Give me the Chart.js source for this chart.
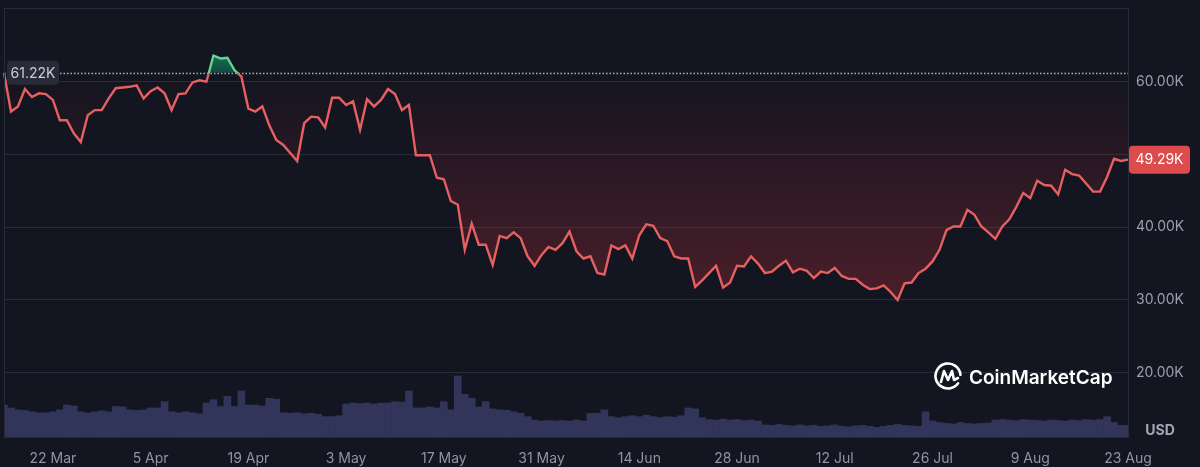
<!DOCTYPE html>
<html lang="en">
<head>
<meta charset="UTF-8">
<title>BTC / USD</title>
<script src="https://cdn.jsdelivr.net/npm/chart.js"></script>
<style>
  html, body { margin: 0; padding: 0; background: #131520; }
  #wrap { width: 1200px; height: 467px; position: relative; }
</style>
</head>
<body>
<div id="wrap"><canvas id="priceChart"></canvas></div>
<script>
// ---- data ----
const startDate = '2021-03-15';
const monthNames = ['Jan','Feb','Mar','Apr','May','Jun','Jul','Aug','Sep','Oct','Nov','Dec'];
const tickLabels = ['22 Mar','5 Apr','19 Apr','3 May','17 May','31 May','14 Jun','28 Jun','12 Jul','26 Jul','9 Aug','23 Aug'];
const yTicks = [20, 30, 40, 50, 60];
const baseline = 61.22;   // start price, dotted line
const lastPrice = 49.29;

// daily price, thousands USD
const priceK = [
  61.22, 55.9, 56.6, 59.0, 57.9, 58.4, 58.3, 57.5, 54.7, 54.7,
  52.9, 51.7, 55.4, 56.1, 56.1, 57.7, 59.1, 59.2, 59.3, 59.5,
  57.7, 58.7, 59.2, 58.4, 56.1, 58.3, 58.4, 59.9, 60.2, 60.0,
  63.6, 63.2, 63.3, 61.6, 60.7, 56.3, 55.9, 56.6, 54.0, 52.0,
  51.3, 50.2, 49.1, 54.3, 55.2, 55.1, 53.7, 57.8, 57.8, 56.8,
  57.3, 53.4, 57.6, 56.6, 57.5, 59.0, 58.3, 56.1, 56.8, 49.9,
  49.9, 49.9, 46.8, 46.6, 43.6, 43.1, 36.9, 40.5, 37.6, 37.6,
  34.8, 38.8, 38.5, 39.3, 38.5, 36.0, 34.7, 36.2, 37.3, 36.9,
  37.8, 39.4, 36.7, 35.7, 36.0, 33.7, 33.5, 37.5, 37.0, 37.5,
  35.7, 38.9, 40.4, 40.2, 38.5, 38.1, 36.0, 35.7, 35.7, 31.8,
  32.7, 33.7, 34.7, 31.7, 32.4, 34.7, 34.6, 36.0, 35.0, 33.7,
  33.9, 34.7, 35.4, 33.8, 34.3, 34.0, 33.0, 33.9, 33.7, 34.4,
  33.3, 32.9, 32.9, 32.1, 31.5, 31.6, 32.0, 31.1, 30.0, 32.3,
  32.4, 33.7, 34.3, 35.3, 36.9, 39.6, 40.1, 40.1, 42.4, 41.7,
  40.1, 39.3, 38.4, 40.1, 41.1, 42.8, 44.7, 44.0, 46.4, 45.8,
  45.7, 44.5, 47.9, 47.3, 47.1, 46.0, 44.9, 44.9, 46.9, 49.4,
  49.1, 49.29
];

// daily volume, billions USD
const volumeB = [
  66, 60, 56, 55, 52, 50, 50, 52, 56, 66,
  64, 52, 50, 52, 54, 52, 63, 62, 56, 55,
  56, 60, 60, 73, 52, 50, 52, 50, 48, 70,
  77, 63, 84, 63, 95, 66, 66, 64, 80, 78,
  50, 49, 50, 48, 49, 47, 42, 42, 44, 68,
  70, 69, 70, 68, 70, 70, 73, 72, 95, 60,
  60, 62, 60, 73, 56, 126, 88, 80, 62, 73,
  58, 56, 55, 52, 49, 42, 35, 33, 34, 33,
  34, 33, 35, 33, 49, 49, 56, 42, 40, 42,
  44, 42, 45, 42, 40, 42, 41, 44, 60, 58,
  40, 36, 35, 37, 35, 36, 34, 35, 33, 25,
  24, 26, 24, 23, 25, 23, 24, 22, 23, 25,
  22, 21, 23, 24, 22, 20, 22, 24, 26, 24,
  23, 22, 52, 33, 30, 28, 27, 30, 28, 27,
  28, 29, 35, 36, 35, 34, 36, 35, 34, 33,
  35, 34, 33, 35, 34, 36, 35, 36, 42, 30,
  24, 24
];

const dates = priceK.map(function (_, i) {
  const d = new Date(startDate + 'T00:00:00Z');
  d.setUTCDate(d.getUTCDate() + i);
  return d.getUTCDate() + ' ' + monthNames[d.getUTCMonth()];
});

const RED = '#e65f61';
const GREEN = '#66d296';
const GRID = '#282c39';
const FONT = 'Inter, "Open Sans", sans-serif';

function rrect(ctx, x, y, w, h, r) {
  ctx.beginPath();
  ctx.moveTo(x + r, y);
  ctx.arcTo(x + w, y, x + w, y + h, r);
  ctx.arcTo(x + w, y + h, x, y + h, r);
  ctx.arcTo(x, y + h, x, y, r);
  ctx.arcTo(x, y, x + w, y, r);
  ctx.closePath();
}

// no extra room for half tick labels at the axis ends
function noPad(s) {
  s.paddingLeft = 0; s.paddingRight = 0; s.paddingTop = 0; s.paddingBottom = 0;
}

const overlay = {
  id: 'overlay',
  afterLayout(chart) {
    const ctx = chart.ctx;
    const y = chart.scales.y;
    const area = chart.chartArea;
    const by = y.getPixelForValue(baseline);
    const ds = chart.data.datasets[0];

    // line colour: green above the start price, red below
    const lg = ctx.createLinearGradient(0, area.top, 0, area.bottom);
    const f = Math.min(Math.max((by - area.top) / (area.bottom - area.top), 0), 1);
    lg.addColorStop(0, GREEN);
    lg.addColorStop(f, GREEN);
    lg.addColorStop(f, RED);
    lg.addColorStop(1, RED);
    ds.borderColor = lg;

    const rg = ctx.createLinearGradient(0, by, 0, y.getPixelForValue(29));
    rg.addColorStop(0, 'rgba(234,57,67,0)');
    rg.addColorStop(1, 'rgba(234,57,67,0.27)');
    const gg = ctx.createLinearGradient(0, y.getPixelForValue(64), 0, by);
    gg.addColorStop(0, 'rgba(22,199,132,0.55)');
    gg.addColorStop(1, 'rgba(22,199,132,0.30)');
    ds.fill.below = rg;
    ds.fill.above = gg;
  },
  beforeDatasetsDraw(chart) {
    const ctx = chart.ctx;
    const area = chart.chartArea;
    const by = Math.round(chart.scales.y.getPixelForValue(baseline)) + 0.5;
    ctx.save();
    ctx.strokeStyle = 'rgba(185,190,205,0.9)';
    ctx.lineWidth = 1.5;
    ctx.setLineDash([1.5, 2]);
    ctx.beginPath();
    ctx.moveTo(area.left, by);
    ctx.lineTo(area.right, by);
    ctx.stroke();
    ctx.restore();
  },
  afterDraw(chart) {
    const ctx = chart.ctx;
    const area = chart.chartArea;
    const y = chart.scales.y;
    ctx.save();

    // frame
    ctx.strokeStyle = GRID;
    ctx.lineWidth = 1;
    ctx.strokeRect(Math.round(area.left) + 0.5, Math.round(area.top) + 0.5,
      Math.round(area.right - area.left), Math.round(area.bottom - area.top));

    // start price tag
    const by = y.getPixelForValue(baseline);
    rrect(ctx, 7, by - 12, 52, 24, 4);
    ctx.fillStyle = '#282b37';
    ctx.fill();
    ctx.fillStyle = '#c9ccd4';
    ctx.font = '14px ' + FONT;
    ctx.textAlign = 'center';
    ctx.textBaseline = 'middle';
    ctx.fillText(baseline.toFixed(2) + 'K', 33, by + 0.5);

    // last price badge
    const ly = y.getPixelForValue(lastPrice);
    rrect(ctx, area.right + 1, ly - 14, 61, 28, 4);
    ctx.fillStyle = '#dd4b4d';
    ctx.fill();
    ctx.fillStyle = '#ffffff';
    ctx.fillText(lastPrice.toFixed(2) + 'K', area.right + 31.5, ly + 0.5);

    // currency
    ctx.fillStyle = '#a3a8b4';
    ctx.font = 'bold 14px ' + FONT;
    ctx.fillText('USD', area.right + 32, area.bottom - 6);

    // watermark
    const cx = 948, cy = 376;
    ctx.strokeStyle = '#ffffff';
    ctx.lineWidth = 2.6;
    ctx.lineCap = 'round';
    ctx.lineJoin = 'round';
    ctx.beginPath();
    ctx.arc(cx, cy, 12.5, 0.2 * Math.PI, 1.97 * Math.PI);
    ctx.stroke();
    ctx.beginPath();
    ctx.moveTo(cx - 7, cy + 6);
    ctx.lineTo(cx - 4, cy - 5);
    ctx.lineTo(cx, cy + 4);
    ctx.lineTo(cx + 4, cy - 5);
    ctx.lineTo(cx + 6, cy + 4);
    ctx.lineTo(cx + 10, cy + 2);
    ctx.stroke();
    ctx.fillStyle = '#ffffff';
    ctx.font = '600 19px ' + FONT;
    ctx.textAlign = 'left';
    ctx.textBaseline = 'alphabetic';
    ctx.fillText('CoinMarketCap', 969, 384);
    ctx.restore();
  }
};

const chart = new Chart(document.getElementById('priceChart'), {
  type: 'line',
  data: {
    labels: dates,
    datasets: [
      {
        type: 'line',
        data: priceK,
        yAxisID: 'y',
        borderColor: RED,
        borderWidth: 2.4,
        pointRadius: 0,
        tension: 0,
        fill: { target: { value: baseline }, above: 'rgba(22,199,132,0.4)', below: 'rgba(234,57,67,0.2)' },
        order: 1
      },
      {
        type: 'bar',
        data: volumeB,
        yAxisID: 'yv',
        backgroundColor: '#32355a',
        barPercentage: 1,
        categoryPercentage: 1,
        order: 2
      }
    ]
  },
  options: {
    responsive: true,
    maintainAspectRatio: false,
    animation: false,
    layout: { padding: { left: 4, top: 8, right: 0, bottom: 0 } },
    plugins: { legend: { display: false }, tooltip: { enabled: false } },
    scales: {
      x: {
        offset: false,
        grid: { display: false },
        border: { display: false },
        ticks: {
          autoSkip: false,
          maxRotation: 0,
          padding: 5,
          color: '#8f95a3',
          font: { family: FONT, size: 14 },
          callback: function (v) {
            const l = this.getLabelForValue(v);
            return tickLabels.includes(l) ? l : '';
          }
        },
        afterFit: function (s) { s.height = 30; noPad(s); }
      },
      y: {
        position: 'right',
        min: 11.17,
        max: 70.13,
        grid: { color: GRID, drawTicks: false },
        border: { display: false },
        afterBuildTicks: function (s) { s.ticks = yTicks.map(v => ({ value: v })); },
        ticks: {
          padding: 8,
          color: '#9aa0ad',
          font: { family: FONT, size: 14 },
          callback: v => v === 50 ? '' : v.toFixed(2) + 'K'
        },
        afterFit: function (s) { s.width = 72; noPad(s); }
      },
      yv: { display: false, min: 0, max: 886 }
    }
  },
  plugins: [overlay]
});
</script>
</body>
</html>
